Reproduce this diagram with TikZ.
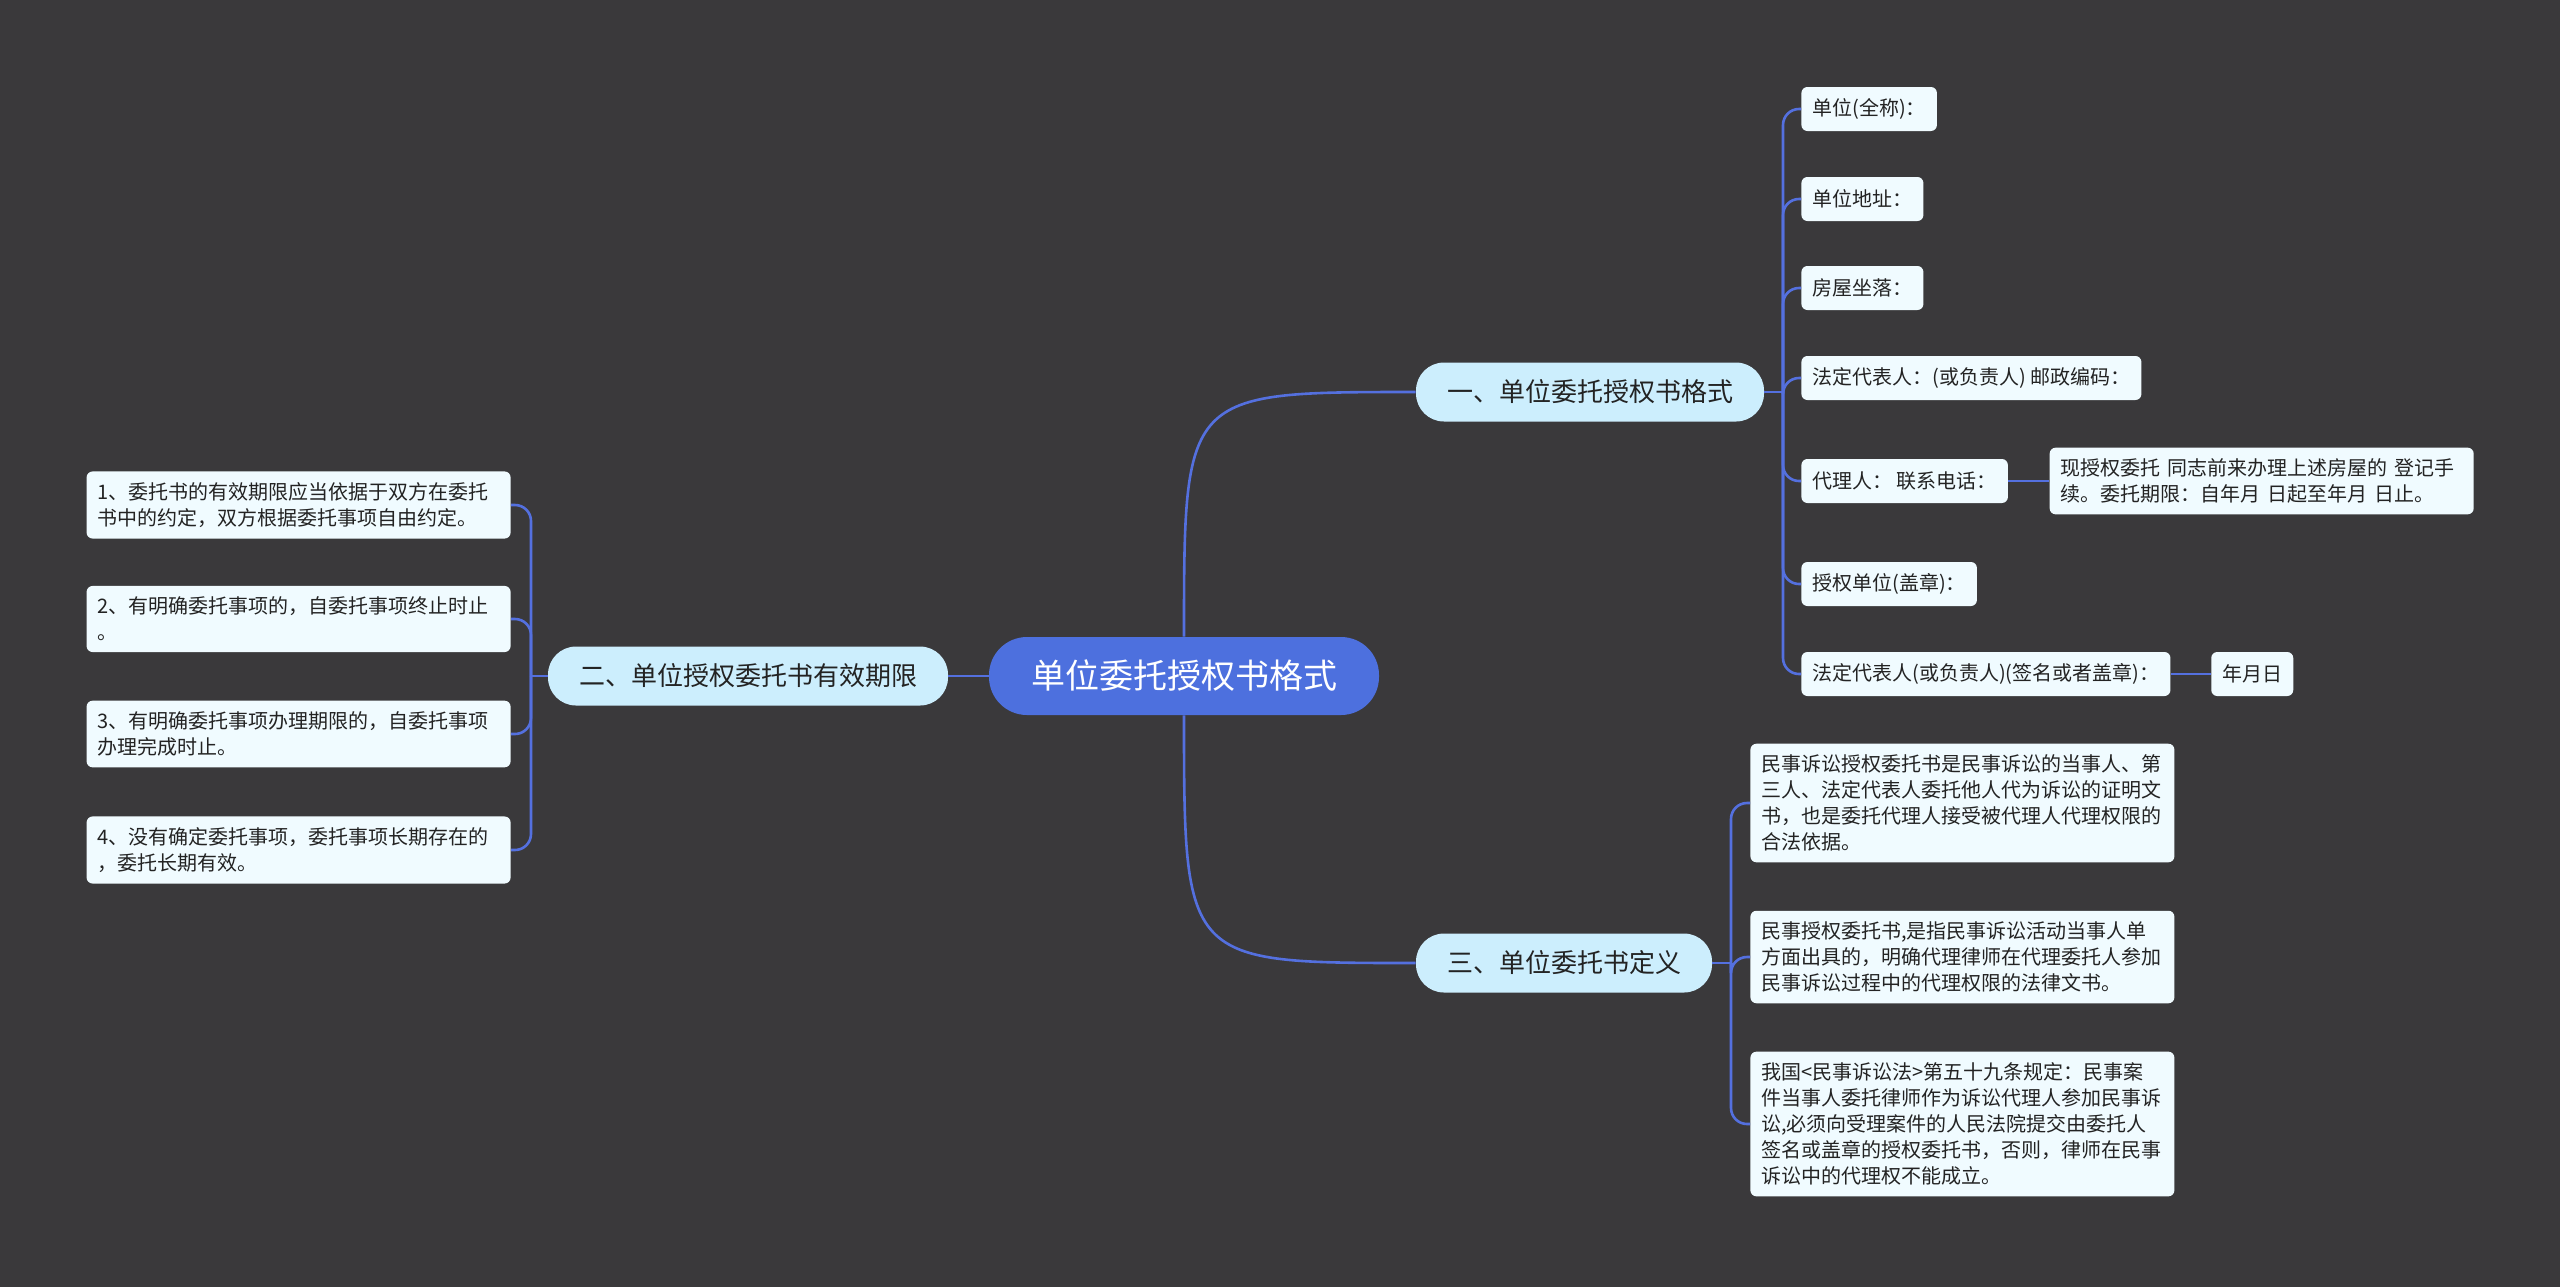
\documentclass[tikz,border=0pt]{standalone}
\usepackage{fontspec}
\setmainfont{Noto Sans CJK SC}
\usepackage{xcolor}
\usepackage{tikz}
\usetikzlibrary{positioning}

\definecolor{bgdark}{RGB}{58,57,59}
\definecolor{linkblue}{RGB}{84,112,223}
\definecolor{rootblue}{RGB}{77,112,222}
\definecolor{topiccyan}{RGB}{204,238,253}
\definecolor{leafwhite}{RGB}{240,251,255}
\definecolor{inkdark}{RGB}{35,35,35}

\begin{document}
\begin{tikzpicture}[x=0.5pt, y=-0.5pt,
    root/.style={rectangle, fill=rootblue, text=white, rounded corners=19pt, minimum height=39pt, inner xsep=21pt, font=\fontsize{17}{20}\selectfont},
    topic/.style={rectangle, fill=topiccyan, text=inkdark, rounded corners=14pt, minimum height=29.5pt, inner xsep=15.5pt, font=\fontsize{13}{16}\selectfont},
    leaf/.style={rectangle, fill=leafwhite, text=inkdark, rounded corners=3pt, minimum height=22pt, inner sep=5.5pt, font=\fontsize{10}{13}\selectfont},
    note/.style={leaf, text width=201pt, align=left},
    link/.style={draw=linkblue, line width=1.3pt},
    elbow/.style={link, rounded corners=8pt}
]
    % Background
    \fill[bgdark] (0,0) rectangle (2560,1287);

    % Root and main topics
    \node[root] (root) at (1184,676) {单位委托授权书格式};
    \node[topic] (fmt) at (1590,392) {一、单位委托授权书格式};
    \node[topic] (term) at (748,676) {二、单位授权委托书有效期限};
    \node[topic] (defn) at (1564,963) {三、单位委托书定义};

    % Branch 1: format fields
    \node[leaf, anchor=west] (name) at (1801,109) {单位(全称)：};
    \node[leaf, anchor=west] (addr) at (1801,199) {单位地址：};
    \node[leaf, anchor=west] (house) at (1801,288) {房屋坐落：};
    \node[leaf, anchor=west] (legal) at (1801,378) {法定代表人：(或负责人) 邮政编码：};
    \node[leaf, anchor=west] (agent) at (1801,481) {代理人： 联系电话：};
    \node[note, right=20.5pt of agent] (entrust) {现授权委托 同志前来办理上述房屋的 登记手\\续。委托期限：自年月 日起至年月 日止。};
    \node[leaf, anchor=west] (seal) at (1801,584) {授权单位(盖章)：};
    \node[leaf, anchor=west] (sign) at (1801,674) {法定代表人(或负责人)(签名或者盖章)：};
    \node[leaf, right=20pt of sign] (date) {年月日};

    % Branch 2: validity terms
    \node[note, anchor=east] (t1) at (511,505) {1、委托书的有效期限应当依据于双方在委托\\书中的约定，双方根据委托事项自由约定。};
    \node[note, anchor=east] (t2) at (511,619) {2、有明确委托事项的，自委托事项终止时止\\。};
    \node[note, anchor=east] (t3) at (511,734) {3、有明确委托事项办理期限的，自委托事项\\办理完成时止。};
    \node[note, anchor=east] (t4) at (511,850) {4、没有确定委托事项，委托事项长期存在的\\，委托长期有效。};

    % Branch 3: definitions
    \node[note, anchor=west] (d1) at (1750,803) {民事诉讼授权委托书是民事诉讼的当事人、第\\三人、法定代表人委托他人代为诉讼的证明文\\书，也是委托代理人接受被代理人代理权限的\\合法依据。};
    \node[note, anchor=west] (d2) at (1750,957) {民事授权委托书,是指民事诉讼活动当事人单\\方面出具的，明确代理律师在代理委托人参加\\民事诉讼过程中的代理权限的法律文书。};
    \node[note, anchor=west] (d3) at (1750,1124) {我国<民事诉讼法>第五十九条规定：民事案\\件当事人委托律师作为诉讼代理人参加民事诉\\讼,必须向受理案件的人民法院提交由委托人\\签名或盖章的授权委托书，否则，律师在民事\\诉讼中的代理权不能成立。};

    % Bus points
    \coordinate (fmtbus) at (1783,392);
    \coordinate (termbus) at (531,676);
    \coordinate (defnbus) at (1731,963);

    % Root links
    \draw[link] (root.north) .. controls (root.north |- fmt.west) .. (fmt.west);
    \draw[link] (root.south) .. controls (root.south |- defn.west) .. (defn.west);
    \draw[link] (root.west) -- (term.east);

    % Branch 1 links
    \draw[link] (fmt.east) -- (fmtbus);
    \draw[elbow] (fmtbus) |- (name.west);
    \draw[elbow] (fmtbus) |- (addr.west);
    \draw[elbow] (fmtbus) |- (house.west);
    \draw[elbow] (fmtbus) |- (legal.west);
    \draw[elbow] (fmtbus) |- (agent.west);
    \draw[elbow] (fmtbus) |- (seal.west);
    \draw[elbow] (fmtbus) |- (sign.west);
    \draw[link] (agent.east) -- (entrust.west);
    \draw[link] (sign.east) -- (date.west);

    % Branch 2 links
    \draw[link] (term.west) -- (termbus);
    \draw[elbow] (termbus) |- (t1.east);
    \draw[elbow] (termbus) |- (t2.east);
    \draw[elbow] (termbus) |- (t3.east);
    \draw[elbow] (termbus) |- (t4.east);

    % Branch 3 links
    \draw[link] (defn.east) -- (defnbus);
    \draw[elbow] (defnbus) |- (d1.west);
    \draw[elbow] (defnbus) |- (d2.west);
    \draw[elbow] (defnbus) |- (d3.west);
\end{tikzpicture}
\end{document}
